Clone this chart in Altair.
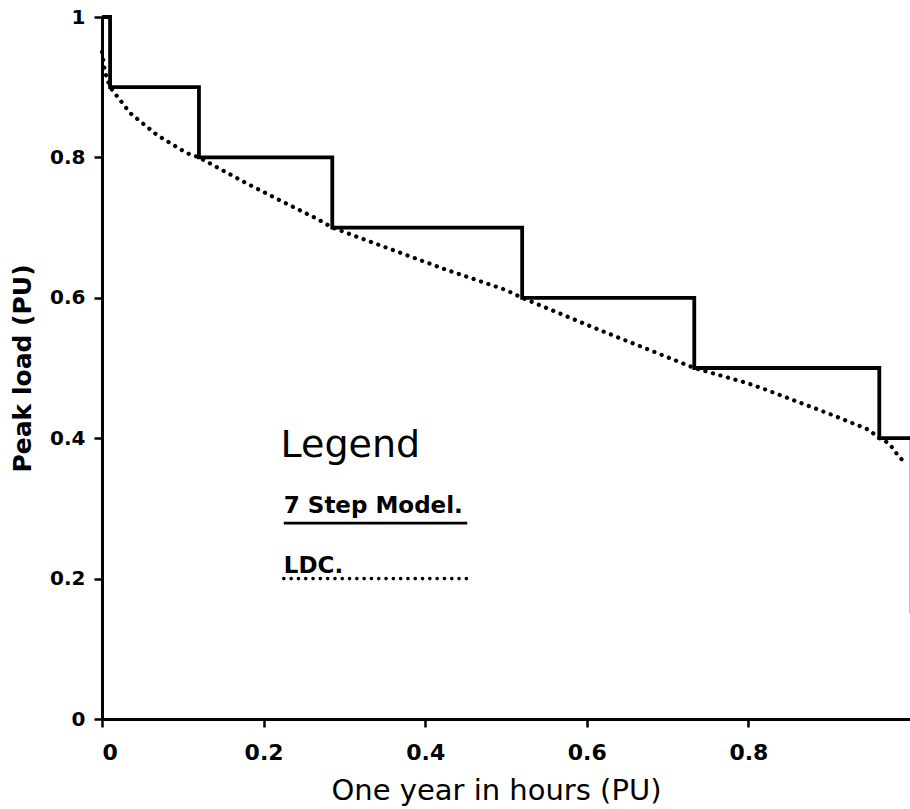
import altair as alt
import pandas as pd

# 7-step model (step-after): start x of each step and its level
step_x = [0.0, 0.01, 0.12, 0.285, 0.52, 0.733, 0.962, 1.0]
step_y = [1.0, 0.9, 0.8, 0.7, 0.6, 0.5, 0.4, 0.4]

# Load duration curve (LDC)
ldc_x = [0.0, 0.004, 0.01, 0.035, 0.068, 0.105, 0.12, 0.179, 0.22, 0.267, 0.285,
         0.36, 0.426, 0.5, 0.52, 0.616, 0.677, 0.733, 0.797, 0.822, 0.904, 0.949,
         0.962, 0.974, 0.986, 0.995]
ldc_y = [0.95, 0.92, 0.9, 0.863, 0.832, 0.806, 0.8, 0.763, 0.739, 0.712, 0.7,
         0.668, 0.64, 0.611, 0.6, 0.554, 0.526, 0.5, 0.479, 0.469, 0.433, 0.412,
         0.4, 0.393, 0.374, 0.364]

# faint right edge of the step model
edge_x = [1.0, 1.0]
edge_y = [0.4, 0.15]

x_ticks = [0, 0.2, 0.4, 0.6, 0.8]
y_ticks = [0, 0.2, 0.4, 0.6, 0.8, 1.0]

legend_title = "Legend"
legend_labels = ["7 Step Model.", "LDC."]

FONT = "DejaVu Sans"

xs = alt.Scale(domain=[0, 1], nice=False, zero=False)
ys = alt.Scale(domain=[0, 1], nice=False, zero=False)

steps = pd.DataFrame({"x": step_x, "y": step_y})
ldc = pd.DataFrame({"x": ldc_x, "y": ldc_y, "o": list(range(len(ldc_x)))})
edge = pd.DataFrame({"x": edge_x, "y": edge_y})

x_axis = alt.Axis(
    values=x_ticks, format=".1~f", title="One year in hours (PU)",
    grid=False, domainColor="black", domainWidth=3, tickColor="black",
    tickWidth=2.5, tickSize=8, labelFont=FONT, labelFontSize=22,
    labelFontWeight="bold", labelColor="black", labelPadding=15,
    titleFont=FONT, titleFontSize=29, titleFontWeight="normal", titleColor="black",
    titleX=394, titleY=80, titleBaseline="alphabetic", titleAlign="center",
)
y_axis = alt.Axis(
    values=y_ticks, format=".1~f", title="Peak load (PU)",
    grid=False, domainColor="black", domainWidth=3, tickColor="black",
    tickWidth=2.5, tickSize=8, labelFont=FONT, labelFontSize=20,
    labelFontWeight="bold", labelColor="black", labelPadding=9,
    titleFont=FONT, titleFontSize=25, titleFontWeight="bold", titleColor="black",
    titleX=-80, titleY=351, titleBaseline="middle", titleAlign="center", titleAngle=-90,
)

step_line = alt.Chart(steps).mark_line(
    interpolate="step-after", color="black", strokeWidth=3.8, strokeJoin="miter"
).encode(
    x=alt.X("x:Q", scale=xs, axis=x_axis),
    y=alt.Y("y:Q", scale=ys, axis=y_axis),
)

ldc_line = alt.Chart(ldc).mark_line(
    color="black", strokeWidth=4.2, strokeDash=[0.1, 7.7], strokeCap="round"
).encode(
    x=alt.X("x:Q", scale=xs), y=alt.Y("y:Q", scale=ys), order="o:Q"
)

edge_line = alt.Chart(edge).mark_line(color="#aaaaaa", strokeWidth=1.5).encode(
    x=alt.X("x:Q", scale=xs), y=alt.Y("y:Q", scale=ys)
)

# legend annotation (placed in data units)
leg_title = alt.Chart(pd.DataFrame({"t": [legend_title], "x": [0.221], "y": [0.373]})).mark_text(
    font=FONT, fontSize=38, align="left", baseline="alphabetic", color="black"
).encode(x=alt.X("x:Q", scale=xs), y=alt.Y("y:Q", scale=ys), text="t:N")

leg_text = alt.Chart(pd.DataFrame({"t": legend_labels, "x": [0.225, 0.225], "y": [0.293, 0.208]})).mark_text(
    font=FONT, fontSize=23, fontWeight="bold", align="left", baseline="alphabetic", color="black"
).encode(x=alt.X("x:Q", scale=xs), y=alt.Y("y:Q", scale=ys), text="t:N")

leg_solid = alt.Chart(pd.DataFrame({"x": [0.225], "x2": [0.452], "y": [0.279]})).mark_rule(
    color="black", strokeWidth=2.8
).encode(x=alt.X("x:Q", scale=xs), x2="x2:Q", y=alt.Y("y:Q", scale=ys))

leg_dot = alt.Chart(pd.DataFrame({"x": [0.225], "x2": [0.455], "y": [0.2]})).mark_rule(
    color="black", strokeWidth=3.6, strokeDash=[0.1, 7.2], strokeCap="round"
).encode(x=alt.X("x:Q", scale=xs), x2="x2:Q", y=alt.Y("y:Q", scale=ys))

chart = alt.layer(
    edge_line, ldc_line, step_line, leg_title, leg_text, leg_solid, leg_dot
).properties(
    width=808, height=702,
    padding={"left": 102, "top": 17, "right": 0, "bottom": 90},
    autosize=alt.AutoSizeParams(type="none"),
    background="white",
).configure_view(stroke=None)

chart.save("out.html", embed_options={"renderer": "svg", "actions": False})
